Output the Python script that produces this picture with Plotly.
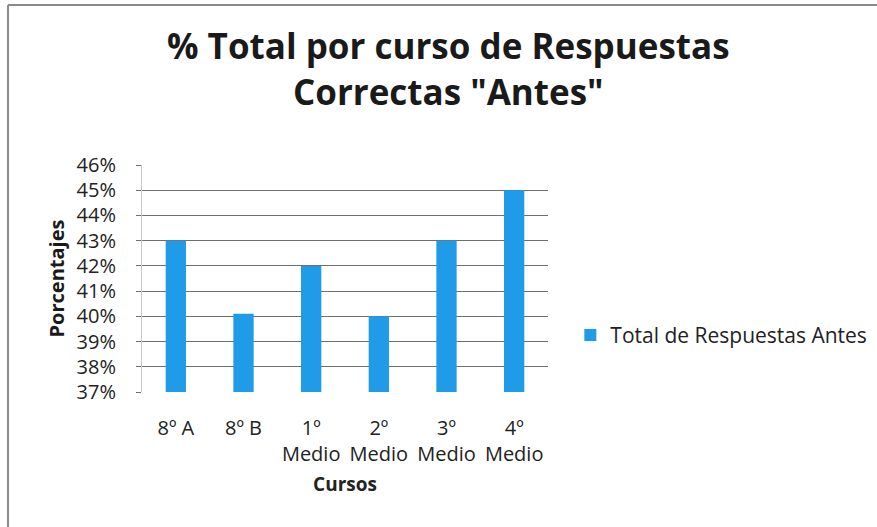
import plotly.graph_objects as go

categories = ["8º A", "8º B", "1º<br>Medio", "2º<br>Medio", "3º<br>Medio", "4º<br>Medio"]
values = [43, 40.1, 42, 40, 43, 45]
series_name = "Total de Respuestas Antes"
y_ticks = [37, 38, 39, 40, 41, 42, 43, 44, 45, 46]
y_tick_labels = [f"{v}%" for v in y_ticks]
title_text = "% Total por curso de Respuestas<br>Correctas \"Antes\""

FONT = "'Open Sans', Lato, sans-serif"

fig = go.Figure()
fig.add_trace(go.Bar(
    x=categories, y=values, name=series_name,
    marker=dict(color="#1F9BE8", line=dict(width=0)),
    width=0.3, showlegend=True,
))

fig.update_layout(
    width=877, height=527,
    margin=dict(l=142, r=329, t=165, b=135, autoexpand=False),
    paper_bgcolor="white", plot_bgcolor="white",
    font=dict(family=FONT, color="#222222", size=18),
    bargap=0.7,
    legend=dict(
        x=1.055, xanchor="left", y=0.25, yanchor="middle",
        font=dict(size=21, color="#222222"),
        bgcolor="rgba(0,0,0,0)", itemwidth=30,
    ),
    xaxis=dict(
        showgrid=False, showline=False, ticks="",
        tickfont=dict(size=20, color="#222222"),
        ticklabelstandoff=22,
        title=dict(text="<b>Cursos</b>", font=dict(size=19, color="#222222"), standoff=11),
    ),
    yaxis=dict(
        range=[37, 46], tickvals=y_ticks, ticktext=y_tick_labels,
        showgrid=True, gridcolor="#6f6f6f", gridwidth=1,
        showline=True, linecolor="#c8c8c8", linewidth=1,
        ticks="outside", ticklen=5, tickcolor="#6f6f6f",
        tickfont=dict(size=20, color="#222222"),
        ticklabelstandoff=16,
        zeroline=False,
        title=dict(text="<b>Porcentajes</b>", font=dict(size=20, color="#1a1a1a"), standoff=6),
    ),
    annotations=[
        dict(text=f"<b>{title_text}</b>", xref="paper", yref="paper",
             x=0.754, y=1.425, xanchor="center", yanchor="middle",
             showarrow=False, font=dict(family=FONT, size=35, color="#1a1a1a")),
    ],
    shapes=[
        dict(type="line", xref="paper", yref="paper", x0=-0.33, x1=1.9, y0=1.705, y1=1.705,
             line=dict(color="#8a8a8a", width=2)),
        dict(type="line", xref="paper", yref="paper", x0=-0.33, x1=-0.33, y0=1.705, y1=-0.7,
             line=dict(color="#8a8a8a", width=2)),
    ],
)

fig.write_html("out.html", config={"displayModeBar": False},
               post_script="document.body.style.margin='0';")
